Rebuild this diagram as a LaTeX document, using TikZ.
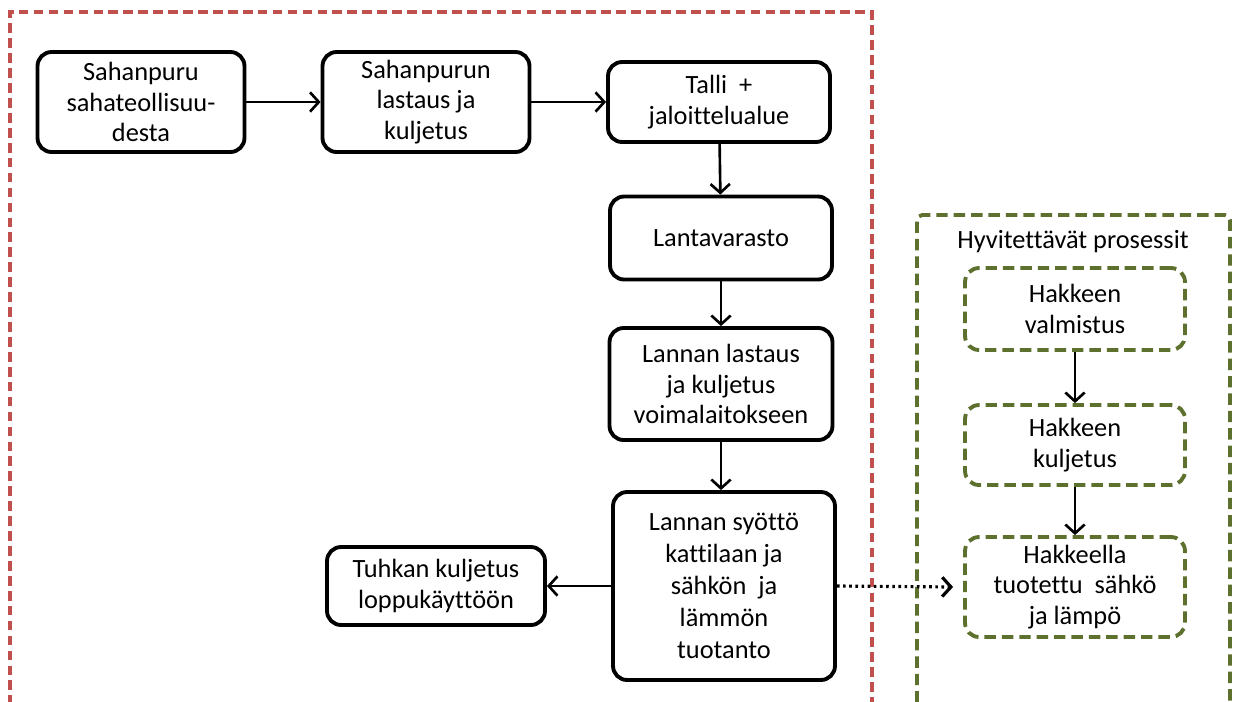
\documentclass[tikz,border=0pt]{standalone}
\usepackage{fontspec}
\setmainfont{Carlito}[Ligatures=NoCommon]
\usepackage{tikz}
\usetikzlibrary{arrows.meta}
\definecolor{rajared}{RGB}{192,80,77}
\definecolor{hyvgreen}{RGB}{94,112,46}

\begin{document}
\begin{tikzpicture}[
		x=0.02cm, y=-0.02cm,
		mynode/.style={draw, line width=2.2pt, rounded corners=8pt, align=center, inner sep=1pt, font=\fontsize{15}{17.5}\selectfont},
		hyvnode/.style={mynode, draw=hyvgreen, dash pattern=on 6.5pt off 3.4pt},
		myarrow/.style={-{Straight Barb[length=5pt,width=11pt]}, line width=1.5pt}
	]
	\useasboundingbox (0,0) rectangle (1234,701);

	\draw[rajared, line width=2.1pt, dash pattern=on 5.5pt off 3pt] (10,720) -- (10,12) -- (872,12) -- (872,720);
	\draw[hyvgreen, line width=2.2pt, dash pattern=on 6.5pt off 3.4pt, rounded corners=3pt] (917,720) -- (917,215) -- (1230,215) -- (1230,720);

	\node[mynode, minimum width=4.14cm, minimum height=2cm] (puru) at (141,102) {Sahanpuru\\sahateollisuu-\\desta};
	\node[mynode, minimum width=4.14cm, minimum height=2cm] (purulastaus) at (426,102) {Sahanpurun\\lastaus ja\\kuljetus};
	\node[mynode, minimum width=4.44cm, minimum height=1.6cm] (talli) at (719,102) {Talli~~+\\jaloittelualue};
	\node[mynode, minimum width=4.44cm, minimum height=1.66cm] (varasto) at (721,238) {Lantavarasto};
	\node[mynode, minimum width=4.46cm, minimum height=2.24cm] (lantalastaus) at (721,384) {Lannan lastaus\\ja kuljetus\\voimalaitokseen};
	\node[mynode, minimum width=4.44cm, minimum height=3.76cm, font=\fontsize{15}{18.2}\selectfont] (syotto) at (724,586) {Lannan syöttö\\kattilaan ja\\sähkön~ ja\\lämmön\\tuotanto};
	\node[mynode, minimum width=4.36cm, minimum height=1.56cm] (tuhka) at (436,586) {Tuhkan kuljetus\\loppukäyttöön};

	\node[font=\fontsize{15}{17.5}\selectfont] (hyvotsikko) at (1073,242) {Hyvitettävät prosessit};
	\node[hyvnode, minimum width=4.4cm, minimum height=1.64cm] (hakevalm) at (1075,309) {Hakkeen\\valmistus};
	\node[hyvnode, minimum width=4.4cm, minimum height=1.6cm] (hakekulj) at (1075,445) {Hakkeen\\kuljetus};
	\node[hyvnode, minimum width=4.4cm, minimum height=2cm] (hakesahko) at (1075,587) {Hakkeella\\tuotettu~ sähkö\\ja lämpö};

	\draw[myarrow] (puru) -- (purulastaus);
	\draw[myarrow] (purulastaus) -- (talli);
	\draw[myarrow] (talli) -- (varasto);
	\draw[myarrow] (varasto) -- (lantalastaus);
	\draw[myarrow] (lantalastaus) -- (lantalastaus |- syotto.north);
	\draw[myarrow] (syotto) -- (tuhka);
	\draw[myarrow] (hakevalm) -- (hakekulj);
	\draw[myarrow] (hakekulj) -- (hakesahko);
	\draw[myarrow, dotted, line width=1.8pt] (syotto.east) -- ([xshift=-0.2cm]hakesahko.west);
\end{tikzpicture}
\end{document}
